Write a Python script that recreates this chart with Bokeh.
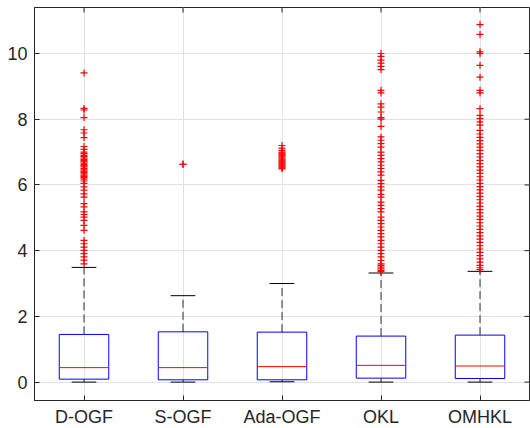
import math
from bokeh.plotting import figure
from bokeh.models import Range1d, FixedTicker, ColumnDataSource
from bokeh.embed import file_html
from bokeh.resources import INLINE

# ---- data ----
methods = ["D-OGF", "S-OGF", "Ada-OGF", "OKL", "OMHKL"]
positions = [1, 2, 3, 4, 5]
q1 = [0.09, 0.07, 0.07, 0.12, 0.11]
median = [0.44, 0.44, 0.47, 0.51, 0.49]
q3 = [1.45, 1.53, 1.52, 1.40, 1.43]
lower_whisker = [0.0, 0.0, 0.01, 0.0, 0.0]
upper_whisker = [3.49, 2.63, 3.00, 3.32, 3.37]

out_dogf = [9.41, 8.33, 8.28, 8.05, 7.68, 7.58, 7.44, 7.17, 7.08, 7.00, 6.95, 6.90, 6.86,
            6.82, 6.78, 6.74, 6.70, 6.66, 6.62, 6.58, 6.55, 6.50, 6.46, 6.42, 6.38, 6.34,
            6.30, 6.26, 6.22, 6.18, 6.12, 6.05, 5.94, 5.84, 5.73, 5.63, 5.43, 5.33, 5.18,
            5.10, 5.02, 4.92, 4.77, 4.62, 4.31, 4.21, 4.11, 4.01, 3.91, 3.81, 3.71, 3.60]
out_sogf = [6.63, 6.63]
out_ada = [7.20, 7.12, 7.05, 7.00, 6.97, 6.94, 6.91, 6.88, 6.85, 6.82, 6.79, 6.76, 6.73,
           6.70, 6.67, 6.64, 6.61, 6.58, 6.55, 6.52, 6.49]
out_okl = [10.00, 9.91, 9.80, 9.71, 9.61, 9.51, 8.88, 8.80, 8.47, 8.37, 8.22, 8.05, 8.00,
           7.78, 7.46, 7.36, 7.26, 7.15, 7.00, 6.90, 6.80, 6.70, 6.60, 6.50, 6.40, 6.30,
           6.14, 6.04, 5.94, 5.84, 5.71, 5.63, 5.48, 5.38, 5.28, 5.18, 5.02, 4.92, 4.82,
           4.72, 4.62, 4.52, 4.42, 4.31, 4.21, 4.11, 4.01, 3.91, 3.81, 3.70, 3.60, 3.55,
           3.50, 3.45, 3.40, 3.36]
out_omhkl = [10.88, 10.58, 10.05, 10.00, 9.64, 9.28, 8.88, 8.80, 8.32, 8.12, 8.02, 7.92,
             7.82, 7.66, 7.55, 7.45, 7.35, 7.25, 7.15, 7.05, 6.95, 6.85, 6.75, 6.65, 6.55,
             6.45, 6.35, 6.25, 6.15, 6.05, 5.95, 5.85, 5.75, 5.65, 5.55, 5.45, 5.35, 5.25,
             5.15, 5.05, 4.95, 4.85, 4.75, 4.65, 4.55, 4.45, 4.35, 4.25, 4.15, 4.05, 3.95,
             3.85, 3.75, 3.65, 3.55, 3.48, 3.42]
outliers = [out_dogf, out_sogf, out_ada, out_okl, out_omhkl]
y_ticks = [0, 2, 4, 6, 8, 10]
x_lim = (0.5, 5.5)
y_lim = (-0.56, 11.40)

# ---- derived sources ----
box_w = 0.5
cap_w = 0.25
box_src = ColumnDataSource(dict(
    x=positions,
    left=[x - box_w / 2 for x in positions],
    right=[x + box_w / 2 for x in positions],
    capl=[x - cap_w / 2 for x in positions],
    capr=[x + cap_w / 2 for x in positions],
    q1=q1, q3=q3, med=median, lo=lower_whisker, hi=upper_whisker,
))
ox, oy = [], []
for x, vals in zip(positions, outliers):
    ox += [x] * len(vals)
    oy += vals

FONT = "Liberation Sans"
TXT = "#262626"

p = figure(frame_width=495, frame_height=393, output_backend="svg", toolbar_location=None,
           x_range=Range1d(*x_lim), y_range=Range1d(*y_lim),
           min_border_left=34, min_border_right=1, min_border_top=7, min_border_bottom=28)
p.background_fill_color = "white"
p.border_fill_color = "white"
p.outline_line_color = TXT
p.outline_line_width = 1

for ax in (p.xaxis[0], p.yaxis[0]):
    ax.axis_line_color = TXT
    ax.major_tick_line_color = TXT
    ax.major_tick_in = 5
    ax.major_tick_out = 0
    ax.minor_tick_line_color = None
    ax.major_label_text_font = FONT
    ax.major_label_text_font_size = "18px"
    ax.major_label_text_color = TXT

p.xaxis[0].ticker = FixedTicker(ticks=positions)
p.xaxis[0].major_label_overrides = {x: m for x, m in zip(positions, methods)}
p.xaxis[0].major_label_standoff = 6
p.yaxis[0].ticker = FixedTicker(ticks=y_ticks)
p.yaxis[0].major_label_standoff = 7

p.xgrid.ticker = FixedTicker(ticks=positions)
p.ygrid.ticker = FixedTicker(ticks=y_ticks)
p.grid.grid_line_color = "#e2e2e2"
p.grid.grid_line_width = 1

# whiskers
p.segment(x0="x", y0="q3", x1="x", y1="hi", source=box_src, line_color="black",
          line_width=1, line_dash="8 4", line_alpha=0.8)
p.segment(x0="x", y0="lo", x1="x", y1="q1", source=box_src, line_color="black",
          line_width=1, line_dash="8 4", line_alpha=0.8)
# caps
p.segment(x0="capl", y0="hi", x1="capr", y1="hi", source=box_src, line_color="black", line_width=1)
p.segment(x0="capl", y0="lo", x1="capr", y1="lo", source=box_src, line_color="black", line_width=1)
# boxes
p.quad(left="left", right="right", bottom="q1", top="q3", source=box_src,
       fill_color=None, line_color="#0000ff", line_width=1)
# medians
p.segment(x0="left", y0="med", x1="right", y1="med", source=box_src, line_color="#ff0000", line_width=1)
# outliers
p.scatter(x=ox, y=oy, marker="cross", size=7, line_color="#ff0000", line_width=1.2)

# mirrored inward ticks on the right and top edges (half of each dash is clipped by the frame)
p.scatter(x=[x_lim[1]] * len(y_ticks), y=y_ticks, marker="dash", size=10,
          line_color=TXT, line_width=1)
p.scatter(x=positions, y=[y_lim[1]] * len(positions), marker="dash", size=10,
          angle=math.pi / 2, line_color=TXT, line_width=1)

open("out.html", "w").write(file_html(p, INLINE))
